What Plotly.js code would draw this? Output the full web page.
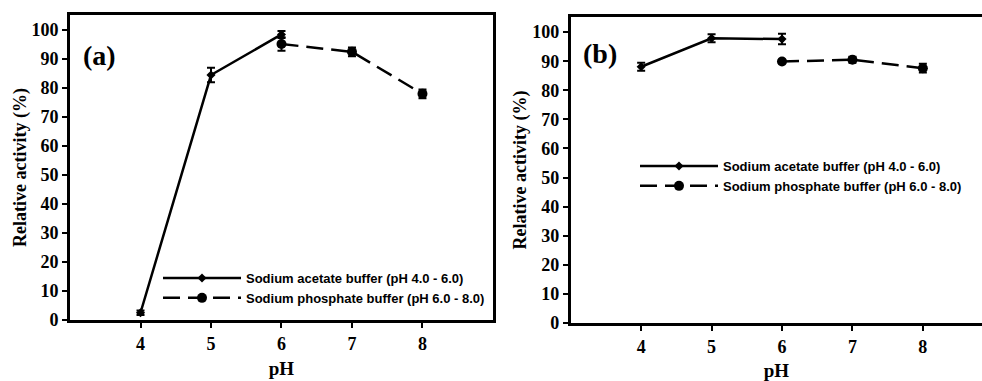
<!DOCTYPE html>
<html>
<head>
<meta charset="utf-8">
<script src="https://cdn.plot.ly/plotly-3.0.1.min.js"></script>
<style>html,body{margin:0;padding:0;background:#fff;}#chart{width:982px;height:381px;}</style>
</head>
<body>
<div id="chart"></div>
<script>
// ---- data ----
const acetatePH = [4, 5, 6];
const phosphatePH = [6, 7, 8];
// panel (a)
const aAcetate = [2.5, 84.5, 98.5];
const aAcetateErr = [0.8, 2.5, 1.2];
const aPhosphate = [95.2, 92.5, 78.0];
const aPhosphateErr = [2.3, 1.5, 1.5];
// panel (b)
const bAcetate = [88.1, 97.9, 97.6];
const bAcetateErr = [1.4, 1.4, 1.8];
const bPhosphate = [89.9, 90.5, 87.6];
const bPhosphateErr = [0.6, 1.0, 1.5];
const acetateName = 'Sodium acetate buffer (pH 4.0 - 6.0)';
const phosphateName = 'Sodium phosphate buffer (pH 6.0 - 8.0)';
const yTicks = [0,10,20,30,40,50,60,70,80,90,100];
const xTicks = [4,5,6,7,8];

const serif = {family: 'Liberation Serif', weight: 'bold', color: '#000'};
const sans = {family: 'Liberation Sans', weight: 'bold', color: '#000', size: 13};

function err(arr){ return {type:'data', array: arr, visible:true, color:'#000', thickness:2, width:4}; }

function acetTrace(y, e, xa, ya, leg){
  return {x: acetatePH, y: y, error_y: err(e), xaxis: xa, yaxis: ya, legend: leg,
    name: acetateName, mode: 'lines+markers', type: 'scatter',
    line: {color:'#000', width:2.5}, marker: {symbol:'diamond', size:7, color:'#000'}};
}
function phosTrace(y, e, xa, ya, leg){
  return {x: phosphatePH, y: y, error_y: err(e), xaxis: xa, yaxis: ya, legend: leg,
    name: phosphateName, mode: 'lines+markers', type: 'scatter',
    line: {color:'#000', width:2.5, dash:'17px,8px'}, marker: {symbol:'circle', size:10, color:'#000'}};
}

const data = [
  acetTrace(aAcetate, aAcetateErr, 'x', 'y', 'legend'),
  phosTrace(aPhosphate, aPhosphateErr, 'x', 'y', 'legend'),
  acetTrace(bAcetate, bAcetateErr, 'x2', 'y2', 'legend2'),
  phosTrace(bPhosphate, bPhosphateErr, 'x2', 'y2', 'legend2')
];

function xAxis(domain, range, anchor){
  return {domain: domain, range: range, anchor: anchor, tickmode:'array', tickvals: xTicks,
    showline:true, linecolor:'#000', linewidth:3, mirror:true, ticks:'outside', ticklen:5, tickwidth:2, tickcolor:'#000',
    showgrid:false, zeroline:false, tickfont: Object.assign({size:18}, serif),
    title:{text:'pH', font:Object.assign({size:19}, serif), standoff:10}, automargin:false};
}
function yAxis(domain, anchor, mirror){
  return {domain: domain, range:[0,105.2], anchor: anchor, tickmode:'array', tickvals: yTicks,
    showline:true, linecolor:'#000', linewidth:3, mirror:mirror, ticks:'outside', ticklen:5, tickwidth:2, tickcolor:'#000',
    showgrid:false, zeroline:false, tickfont: Object.assign({size:18}, serif),
    title:{text:'Relative activity (%)', font:Object.assign({size:18}, serif), standoff:1}, automargin:false};
}

const layout = {
  width: 982, height: 381,
  margin: {l:0, r:0, t:0, b:0},
  paper_bgcolor:'#fff', plot_bgcolor:'#fff',
  showlegend: true,
  xaxis: xAxis([0.0713, 0.502], [3, 9], 'y'),
  yaxis: yAxis([0.1601, 0.9606], 'x', true),
  xaxis2: xAxis([0.5812, 1], [3, 8.84], 'y2'),
  yaxis2: yAxis([0.1522, 0.9554], 'x2', false),
  legend: {x: 158/982, y: (381-263)/381, xanchor:'left', yanchor:'top', bgcolor:'rgba(0,0,0,0)',
    font: sans, tracegroupgap:0, itemwidth:78},
  legend2: {x: 635/982, y: (381-151)/381, xanchor:'left', yanchor:'top', bgcolor:'rgba(0,0,0,0)',
    font: sans, tracegroupgap:0, itemwidth:78},
  annotations: [
    {text:'(a)', xref:'paper', yref:'paper', x:99.5/982, y:(381-55)/381, showarrow:false,
      xanchor:'center', yanchor:'middle', font:Object.assign({size:28}, serif)},
    {text:'(b)', xref:'paper', yref:'paper', x:600/982, y:(381-53)/381, showarrow:false,
      xanchor:'center', yanchor:'middle', font:Object.assign({size:28}, serif)}
  ]
};

Plotly.newPlot('chart', data, layout, {displayModeBar:false, staticPlot:true});
</script>
</body>
</html>
